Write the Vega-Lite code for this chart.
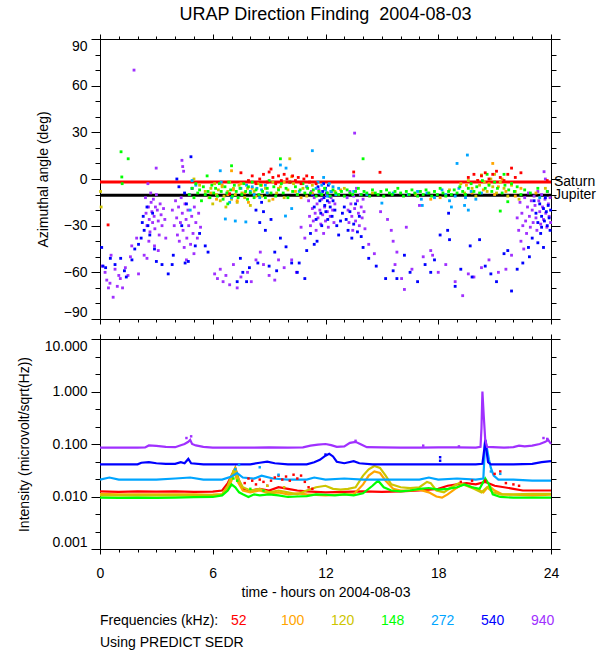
{
  "$schema": "https://vega.github.io/schema/vega-lite/v6.json",
  "padding": {"left": 16, "top": 5, "right": 5, "bottom": 5},
  "config": {
    "font": "Liberation Sans",
    "view": {"stroke": "black", "strokeWidth": 1},
    "axis": {
      "labelFont": "Liberation Sans", "labelFontSize": 14, "labelColor": "black",
      "titleFont": "Liberation Sans", "titleFontSize": 14, "titleFontWeight": "normal", "titleColor": "black",
      "domainColor": "black", "tickColor": "black", "grid": false,
      "labelPadding": 4, "titlePadding": 13, "labelOverlap": false, "labelBound": false
    },
    "legend": {"titleFont": "Liberation Sans", "labelFont": "Liberation Sans"},
    "title": {"font": "Liberation Sans", "fontSize": 18, "fontWeight": "normal", "color": "black"}
  },
  "datasets": {
    "planets": [
      {"body": "Saturn", "a": -2},
      {"body": "Jupiter", "a": -10.4}
    ],
    "df": [
      {"f":"940","t":0.12,"a":-56},{"f":"940","t":0.27,"a":-60},{"f":"940","t":0.36,"a":-65},{"f":"940","t":0.45,"a":-70},{"f":"940","t":0.53,"a":-67},{"f":"940","t":0.59,"a":-49},{"f":"940","t":0.7,"a":-76},{"f":"940","t":0.8,"a":-58},{"f":"940","t":0.92,"a":-69},{"f":"940","t":1.0,"a":-62},{"f":"940","t":1.08,"a":-64},{"f":"940","t":1.2,"a":-70},{"f":"940","t":1.35,"a":-57},{"f":"940","t":1.49,"a":-62},{"f":"940","t":1.62,"a":-50},{"f":"940","t":1.69,"a":-43},{"f":"940","t":1.81,"a":70},{"f":"940","t":1.95,"a":-38},{"f":"940","t":2.05,"a":-61},{"f":"940","t":2.35,"a":-49},{"f":"940","t":2.5,"a":-51},{"f":"940","t":2.6,"a":-40},
      {"f":"940","t":2.42,"a":-12},{"f":"940","t":2.45,"a":-22},{"f":"940","t":2.5,"a":-30},{"f":"940","t":2.55,"a":-3},{"f":"940","t":2.58,"a":-18},{"f":"940","t":2.62,"a":-26},{"f":"940","t":2.66,"a":-34},{"f":"940","t":2.7,"a":-9},{"f":"940","t":2.72,"a":-15},{"f":"940","t":2.76,"a":-21},{"f":"940","t":2.8,"a":-28},{"f":"940","t":2.84,"a":-13},{"f":"940","t":2.88,"a":-24},{"f":"940","t":2.92,"a":-32},{"f":"940","t":2.95,"a":-18},{"f":"940","t":2.99,"a":7},{"f":"940","t":3.0,"a":-10},{"f":"940","t":3.05,"a":-20},{"f":"940","t":3.1,"a":-27},{"f":"940","t":3.15,"a":-36},{"f":"940","t":3.2,"a":-16},{"f":"940","t":3.25,"a":-23},{"f":"940","t":3.3,"a":-30},{"f":"940","t":3.38,"a":-19},{"f":"940","t":3.45,"a":-26},{"f":"940","t":3.5,"a":-38},{"f":"940","t":3.1,"a":-46},{"f":"940","t":2.9,"a":-43},
      {"f":"940","t":3.85,"a":-20},{"f":"940","t":3.95,"a":-30},{"f":"940","t":4.02,"a":-14},{"f":"940","t":4.08,"a":-25},{"f":"940","t":4.12,"a":-36},{"f":"940","t":4.18,"a":-18},{"f":"940","t":4.22,"a":-40},{"f":"940","t":4.28,"a":-28},{"f":"940","t":4.32,"a":-12},{"f":"940","t":4.36,"a":12},{"f":"940","t":4.4,"a":8},{"f":"940","t":4.45,"a":5},{"f":"940","t":4.38,"a":-22},{"f":"940","t":4.42,"a":-33},{"f":"940","t":4.48,"a":-44},{"f":"940","t":4.52,"a":-16},{"f":"940","t":4.58,"a":-26},{"f":"940","t":4.62,"a":-38},{"f":"940","t":4.68,"a":-20},{"f":"940","t":4.72,"a":-30},{"f":"940","t":4.78,"a":-10},{"f":"940","t":4.82,"a":-42},{"f":"940","t":4.88,"a":-24},{"f":"940","t":4.95,"a":-35},{"f":"940","t":5.02,"a":-18},{"f":"940","t":5.1,"a":-28},{"f":"940","t":5.18,"a":-38},{"f":"940","t":5.25,"a":-22},{"f":"940","t":5.35,"a":-31},{"f":"940","t":5.0,"a":-48},{"f":"940","t":4.6,"a":-52},
      {"f":"940","t":6.1,"a":-61},{"f":"940","t":6.25,"a":-64},{"f":"940","t":6.4,"a":-58},{"f":"940","t":6.55,"a":-66},{"f":"940","t":6.7,"a":-62},{"f":"940","t":6.9,"a":-68},{"f":"940","t":7.1,"a":-55},{"f":"940","t":7.3,"a":-70},{"f":"940","t":7.5,"a":-63},{"f":"940","t":7.85,"a":-60},{"f":"940","t":8.05,"a":-66},{"f":"940","t":8.3,"a":-52},{"f":"940","t":8.53,"a":-47},{"f":"940","t":8.7,"a":-55},{"f":"940","t":9.0,"a":-62},{"f":"940","t":9.3,"a":-65},{"f":"940","t":9.5,"a":-52},{"f":"940","t":9.8,"a":-57},{"f":"940","t":10.2,"a":-52},{"f":"940","t":10.45,"a":-60},{"f":"940","t":10.7,"a":-31},{"f":"940","t":10.9,"a":-38},
      {"f":"940","t":11.1,"a":-14},{"f":"940","t":11.15,"a":-24},{"f":"940","t":11.2,"a":-30},{"f":"940","t":11.25,"a":-8},{"f":"940","t":11.3,"a":-19},{"f":"940","t":11.35,"a":-27},{"f":"940","t":11.4,"a":-12},{"f":"940","t":11.45,"a":-22},{"f":"940","t":11.5,"a":-33},{"f":"940","t":11.55,"a":-16},{"f":"940","t":11.6,"a":-25},{"f":"940","t":11.65,"a":-7},{"f":"940","t":11.7,"a":-20},{"f":"940","t":11.75,"a":-29},{"f":"940","t":11.8,"a":-13},{"f":"940","t":11.85,"a":-23},{"f":"940","t":11.9,"a":-35},{"f":"940","t":11.95,"a":-18},{"f":"940","t":12.0,"a":-27},{"f":"940","t":12.05,"a":-10},{"f":"940","t":12.1,"a":-21},{"f":"940","t":12.15,"a":-31},{"f":"940","t":12.2,"a":-15},{"f":"940","t":12.25,"a":-24},{"f":"940","t":12.3,"a":-12},{"f":"940","t":12.38,"a":-20},{"f":"940","t":12.45,"a":-28},{"f":"940","t":12.5,"a":-16},
      {"f":"940","t":13.15,"a":-12},{"f":"940","t":13.2,"a":-20},{"f":"940","t":13.25,"a":-28},{"f":"940","t":13.5,"a":2},{"f":"940","t":13.3,"a":-8},{"f":"940","t":13.35,"a":-16},{"f":"940","t":13.4,"a":-24},{"f":"940","t":13.45,"a":-33},{"f":"940","t":13.5,"a":-11},{"f":"940","t":13.55,"a":-19},{"f":"940","t":13.6,"a":-27},{"f":"940","t":13.65,"a":-6},{"f":"940","t":13.7,"a":-14},{"f":"940","t":13.75,"a":-22},{"f":"940","t":13.8,"a":-30},{"f":"940","t":13.85,"a":-10},{"f":"940","t":13.9,"a":-18},{"f":"940","t":13.95,"a":-25},{"f":"940","t":14.0,"a":-13},{"f":"940","t":14.05,"a":-21},{"f":"940","t":14.1,"a":-32},{"f":"940","t":13.55,"a":29.5},
      {"f":"940","t":14.3,"a":-42},{"f":"940","t":14.6,"a":-48},{"f":"940","t":14.93,"a":-21},{"f":"940","t":15.3,"a":-26},{"f":"940","t":15.5,"a":-33},{"f":"940","t":15.6,"a":-40},{"f":"940","t":15.7,"a":-55},{"f":"940","t":15.8,"a":-47},{"f":"940","t":16.05,"a":-64},{"f":"940","t":16.2,"a":-71},{"f":"940","t":16.3,"a":-31},{"f":"940","t":16.6,"a":-58},{"f":"940","t":17.0,"a":-17},{"f":"940","t":17.2,"a":-50},{"f":"940","t":17.6,"a":-46},{"f":"940","t":17.7,"a":-49},{"f":"940","t":18.0,"a":-60},{"f":"940","t":18.4,"a":-55},{"f":"940","t":18.9,"a":-66},{"f":"940","t":19.3,"a":-75},{"f":"940","t":19.6,"a":-61},{"f":"940","t":19.9,"a":-63},{"f":"940","t":20.3,"a":-57},{"f":"940","t":20.7,"a":-52},{"f":"940","t":21.2,"a":-60},{"f":"940","t":21.6,"a":-58},{"f":"940","t":21.9,"a":-49},
      {"f":"940","t":22.2,"a":-25},{"f":"940","t":22.28,"a":-33},{"f":"940","t":22.35,"a":-15},{"f":"940","t":22.4,"a":-40},{"f":"940","t":22.45,"a":-22},{"f":"940","t":22.5,"a":-30},{"f":"940","t":22.55,"a":-45},{"f":"940","t":22.6,"a":-12},{"f":"940","t":22.65,"a":-27},{"f":"940","t":22.7,"a":-35},{"f":"940","t":22.75,"a":-18},{"f":"940","t":22.8,"a":-9},{"f":"940","t":22.85,"a":-24},{"f":"940","t":22.9,"a":-31},{"f":"940","t":22.95,"a":-14},{"f":"940","t":23.0,"a":-20},{"f":"940","t":23.05,"a":-28},{"f":"940","t":23.1,"a":-11},{"f":"940","t":23.15,"a":-17},{"f":"940","t":23.2,"a":-25},{"f":"940","t":23.25,"a":-33},{"f":"940","t":23.3,"a":-8},{"f":"940","t":23.35,"a":-14},{"f":"940","t":23.4,"a":-21},{"f":"940","t":23.45,"a":-29},{"f":"940","t":23.5,"a":-10},{"f":"940","t":23.55,"a":-18},{"f":"940","t":23.6,"a":-26},{"f":"940","t":23.63,"a":4.7},{"f":"940","t":23.68,"a":-13},{"f":"940","t":23.72,"a":-22},{"f":"940","t":23.78,"a":-31},{"f":"940","t":23.82,"a":-8},{"f":"940","t":23.86,"a":-16},{"f":"940","t":23.9,"a":-24},{"f":"940","t":23.95,"a":-12},{"f":"940","t":23.98,"a":-28},{"f":"940","t":23.7,"a":0},
      {"f":"540","t":0.09,"a":-44},{"f":"540","t":0.16,"a":-56},{"f":"540","t":0.3,"a":-57},{"f":"540","t":0.55,"a":-51},{"f":"540","t":0.8,"a":-55},{"f":"540","t":1.1,"a":-51},{"f":"540","t":1.3,"a":-59},{"f":"540","t":1.4,"a":-63},{"f":"540","t":1.7,"a":-52},{"f":"540","t":1.85,"a":-45},{"f":"540","t":2.05,"a":-42},{"f":"540","t":2.19,"a":-38},{"f":"540","t":2.25,"a":-28},{"f":"540","t":2.3,"a":-24},{"f":"540","t":2.35,"a":-33},{"f":"540","t":2.5,"a":-18},{"f":"540","t":2.55,"a":-30},{"f":"540","t":2.65,"a":-36},{"f":"540","t":2.8,"a":-22},{"f":"540","t":2.9,"a":-45},{"f":"540","t":3.0,"a":-53},{"f":"540","t":3.3,"a":-55},{"f":"540","t":3.63,"a":-61},{"f":"540","t":3.84,"a":-55},{"f":"540","t":3.9,"a":-49},{"f":"540","t":4.09,"a":0},{"f":"540","t":4.2,"a":-5},{"f":"540","t":4.35,"a":-30},{"f":"540","t":4.5,"a":-9},{"f":"540","t":4.53,"a":-54},{"f":"540","t":4.6,"a":-16},{"f":"540","t":4.7,"a":-53},{"f":"540","t":4.84,"a":14.3},{"f":"540","t":4.9,"a":-6},{"f":"540","t":5.07,"a":-43},{"f":"540","t":5.3,"a":-35},{"f":"540","t":5.6,"a":-43},{"f":"540","t":5.75,"a":-47},
      {"f":"540","t":7.3,"a":-66},{"f":"540","t":7.47,"a":-51},{"f":"540","t":7.6,"a":-60},{"f":"540","t":7.8,"a":-66},{"f":"540","t":7.95,"a":-57},{"f":"540","t":8.3,"a":-20},{"f":"540","t":8.4,"a":-54},{"f":"540","t":8.5,"a":-28},{"f":"540","t":8.6,"a":-15},{"f":"540","t":8.7,"a":-21},{"f":"540","t":8.8,"a":-33},{"f":"540","t":9.0,"a":-56},{"f":"540","t":9.1,"a":-26},{"f":"540","t":9.3,"a":-47},{"f":"540","t":9.4,"a":-59},{"f":"540","t":9.6,"a":-38},{"f":"540","t":9.9,"a":-43.6},{"f":"540","t":10.2,"a":-54},{"f":"540","t":10.5,"a":-60},{"f":"540","t":10.6,"a":-54},{"f":"540","t":10.9,"a":-64},{"f":"540","t":11.0,"a":-46},{"f":"540","t":11.2,"a":-35},{"f":"540","t":11.4,"a":-42},{"f":"540","t":11.55,"a":-40},
      {"f":"540","t":11.3,"a":-10},{"f":"540","t":11.4,"a":-18},{"f":"540","t":11.5,"a":-26},{"f":"540","t":11.6,"a":-5},{"f":"540","t":11.7,"a":-14},{"f":"540","t":11.75,"a":-22},{"f":"540","t":11.8,"a":-30},{"f":"540","t":11.85,"a":-8},{"f":"540","t":11.9,"a":-3},{"f":"540","t":11.92,"a":-12},{"f":"540","t":11.96,"a":-17},{"f":"540","t":12.0,"a":-6},{"f":"540","t":12.02,"a":-21},{"f":"540","t":12.06,"a":-9},{"f":"540","t":12.1,"a":-14},{"f":"540","t":12.12,"a":-26},{"f":"540","t":12.15,"a":-4},{"f":"540","t":12.2,"a":-11},{"f":"540","t":12.25,"a":-18},{"f":"540","t":12.3,"a":-8},{"f":"540","t":12.35,"a":-24},{"f":"540","t":12.4,"a":-14},{"f":"540","t":12.5,"a":-20},{"f":"540","t":12.6,"a":-30},{"f":"540","t":12.7,"a":-36},{"f":"540","t":12.8,"a":-27},{"f":"540","t":12.9,"a":-22},
      {"f":"540","t":13.0,"a":-18},{"f":"540","t":13.1,"a":-26},{"f":"540","t":13.2,"a":-33},{"f":"540","t":13.3,"a":-21},{"f":"540","t":13.4,"a":-38},{"f":"540","t":13.5,"a":-29},{"f":"540","t":13.6,"a":-16},{"f":"540","t":13.7,"a":-34},{"f":"540","t":13.8,"a":-24},{"f":"540","t":13.9,"a":-37},{"f":"540","t":14.0,"a":-44},{"f":"540","t":14.3,"a":-51},{"f":"540","t":14.7,"a":-56},{"f":"540","t":15.2,"a":-64},{"f":"540","t":15.6,"a":-59},{"f":"540","t":15.8,"a":-64},{"f":"540","t":16.2,"a":-49},{"f":"540","t":16.5,"a":-60},{"f":"540","t":16.9,"a":-66},{"f":"540","t":17.3,"a":-55},{"f":"540","t":17.6,"a":-60},{"f":"540","t":17.8,"a":-52},{"f":"540","t":18.1,"a":-36},{"f":"540","t":18.5,"a":-33},{"f":"540","t":18.55,"a":-22},{"f":"540","t":18.6,"a":-39},{"f":"540","t":18.9,"a":-69},{"f":"540","t":19.2,"a":-58},{"f":"540","t":19.7,"a":-43},{"f":"540","t":19.8,"a":-63},{"f":"540","t":20.2,"a":-39},{"f":"540","t":20.5,"a":-56},{"f":"540","t":20.8,"a":-61},{"f":"540","t":21.1,"a":-66},{"f":"540","t":21.5,"a":-48},{"f":"540","t":21.7,"a":-46},{"f":"540","t":21.9,"a":-72},{"f":"540","t":22.2,"a":-58},{"f":"540","t":22.5,"a":-54},{"f":"540","t":22.8,"a":-44},{"f":"540","t":22.85,"a":-50},{"f":"540","t":23.0,"a":-38},{"f":"540","t":23.3,"a":-41},{"f":"540","t":23.5,"a":-31},{"f":"540","t":23.6,"a":-44},
      {"f":"540","t":23.1,"a":-14},{"f":"540","t":23.2,"a":-22},{"f":"540","t":23.3,"a":-28},{"f":"540","t":23.4,"a":-16},{"f":"540","t":23.5,"a":-24},{"f":"540","t":23.6,"a":-19},{"f":"540","t":23.65,"a":-27},{"f":"540","t":23.7,"a":-12},{"f":"540","t":23.75,"a":-21},{"f":"540","t":23.8,"a":-30},{"f":"540","t":23.85,"a":-17},{"f":"540","t":23.9,"a":-25},{"f":"540","t":23.95,"a":-33},{"f":"540","t":23.98,"a":-20},{"f":"540","t":23.45,"a":-35},
      {"f":"120","t":0.03,"a":-8},{"f":"120","t":0.06,"a":-18},{"f":"120","t":5.0,"a":0},{"f":"120","t":5.3,"a":-4},{"f":"120","t":5.6,"a":-8},{"f":"120","t":5.8,"a":-12},{"f":"120","t":5.9,"a":-6},{"f":"120","t":6.0,"a":-16},{"f":"120","t":6.1,"a":-3},{"f":"120","t":6.2,"a":-10},{"f":"120","t":6.3,"a":-7},{"f":"120","t":6.4,"a":-14},{"f":"120","t":6.5,"a":-5},{"f":"120","t":6.6,"a":-11},{"f":"120","t":6.7,"a":-18},{"f":"120","t":6.8,"a":-8},{"f":"120","t":6.9,"a":-2},{"f":"120","t":7.0,"a":-13},{"f":"120","t":7.1,"a":-6},{"f":"120","t":7.2,"a":-10},{"f":"120","t":7.3,"a":-15},{"f":"120","t":7.4,"a":-4},{"f":"120","t":7.55,"a":-9},{"f":"120","t":7.7,"a":-12},{"f":"120","t":7.85,"a":-6},{"f":"120","t":8.0,"a":-17},{"f":"120","t":8.2,"a":-8},{"f":"120","t":8.4,"a":-3},{"f":"120","t":8.6,"a":-11},{"f":"120","t":8.8,"a":-6},{"f":"120","t":9.0,"a":-14},{"f":"120","t":9.2,"a":-2},{"f":"120","t":9.4,"a":-9},{"f":"120","t":9.6,"a":-5},{"f":"120","t":9.8,"a":-12},{"f":"120","t":10.1,"a":13},{"f":"120","t":10.0,"a":-7},{"f":"120","t":10.3,"a":-3},{"f":"120","t":10.5,"a":-10},{"f":"120","t":10.8,"a":-6},{"f":"120","t":11.0,"a":-11},{"f":"120","t":11.3,"a":-4},{"f":"120","t":12.5,"a":-8},{"f":"120","t":13.0,"a":-6},{"f":"120","t":14.5,"a":-9},{"f":"120","t":16.8,"a":-10},{"f":"120","t":18.6,"a":-7},{"f":"120","t":19.2,"a":-3},{"f":"120","t":19.4,"a":-9},{"f":"120","t":19.6,"a":-1},{"f":"120","t":19.8,"a":-6},{"f":"120","t":20.0,"a":-11},{"f":"120","t":20.2,"a":-4},{"f":"120","t":20.3,"a":2.6},{"f":"120","t":20.45,"a":-2},{"f":"120","t":20.6,"a":-8},{"f":"120","t":20.8,"a":0},{"f":"120","t":20.9,"a":-5},{"f":"120","t":21.0,"a":3},{"f":"120","t":21.1,"a":-9},{"f":"120","t":21.3,"a":-2},{"f":"120","t":21.5,"a":-6},{"f":"120","t":21.7,"a":-11},{"f":"120","t":21.9,"a":-4},{"f":"120","t":22.1,"a":-8},{"f":"120","t":22.3,"a":-13},{"f":"120","t":23.7,"a":-6},
      {"f":"100","t":5.9,"a":-9},{"f":"100","t":6.2,"a":-13},{"f":"100","t":6.5,"a":-4},{"f":"100","t":6.8,"a":-10},{"f":"100","t":7.0,"a":5.3},{"f":"100","t":7.1,"a":-7},{"f":"100","t":7.3,"a":-14},{"f":"100","t":7.5,"a":-3},{"f":"100","t":7.7,"a":-9},{"f":"100","t":7.9,"a":-15},{"f":"100","t":8.1,"a":-6},{"f":"100","t":8.3,"a":-11},{"f":"100","t":8.6,"a":-4},{"f":"100","t":8.9,"a":-9},{"f":"100","t":9.2,"a":-13},{"f":"100","t":9.5,"a":-6},{"f":"100","t":9.8,"a":-2},{"f":"100","t":10.2,"a":1.5},{"f":"100","t":10.4,"a":-8},{"f":"100","t":10.7,"a":-12},{"f":"100","t":11.0,"a":-5},{"f":"100","t":11.3,"a":-9},{"f":"100","t":12.8,"a":-7},{"f":"100","t":17.6,"a":-13},{"f":"100","t":18.1,"a":-12},{"f":"100","t":19.5,"a":-4},{"f":"100","t":19.8,"a":-9},{"f":"100","t":20.1,"a":-1},{"f":"100","t":20.4,"a":-7},{"f":"100","t":20.7,"a":-3},{"f":"100","t":20.9,"a":10},{"f":"100","t":21.0,"a":-10},{"f":"100","t":21.2,"a":-5},{"f":"100","t":21.4,"a":0},{"f":"100","t":21.6,"a":-8},{"f":"100","t":21.9,"a":-3},{"f":"100","t":22.1,"a":-11},{"f":"100","t":22.4,"a":-6},{"f":"100","t":23.2,"a":-9},
      {"f":"272","t":4.9,"a":-1},{"f":"272","t":5.1,"a":-4},{"f":"272","t":4.8,"a":-20},{"f":"272","t":6.4,"a":5.3},{"f":"272","t":6.45,"a":-2},{"f":"272","t":6.67,"a":-25.7},{"f":"272","t":6.9,"a":-15},{"f":"272","t":7.0,"a":-12},{"f":"272","t":7.2,"a":-27},{"f":"272","t":7.5,"a":-6},{"f":"272","t":7.76,"a":-27.6},{"f":"272","t":7.8,"a":-4},{"f":"272","t":8.0,"a":-8},{"f":"272","t":8.1,"a":-5},{"f":"272","t":8.2,"a":-10},{"f":"272","t":8.35,"a":-6},{"f":"272","t":8.5,"a":-12},{"f":"272","t":8.6,"a":-7},{"f":"272","t":8.8,"a":-4},{"f":"272","t":8.9,"a":-9},{"f":"272","t":9.6,"a":9},{"f":"272","t":9.9,"a":7},{"f":"272","t":9.87,"a":-23.8},{"f":"272","t":10.2,"a":-19},{"f":"272","t":10.6,"a":-8},{"f":"272","t":11.0,"a":-5},{"f":"272","t":11.3,"a":18.2},{"f":"272","t":11.5,"a":-6},{"f":"272","t":11.6,"a":-2},{"f":"272","t":11.7,"a":-9},{"f":"272","t":11.8,"a":-4},{"f":"272","t":11.9,"a":1},{"f":"272","t":12.0,"a":-7},{"f":"272","t":12.1,"a":-11},{"f":"272","t":12.2,"a":-3},{"f":"272","t":12.3,"a":-8},{"f":"272","t":12.4,"a":-5},{"f":"272","t":12.55,"a":-10},{"f":"272","t":12.7,"a":-6},{"f":"272","t":13.5,"a":-8},{"f":"272","t":14.2,"a":-10},{"f":"272","t":15.0,"a":-15.5},{"f":"272","t":15.6,"a":-9},{"f":"272","t":16.4,"a":-10},{"f":"272","t":16.9,"a":-8},{"f":"272","t":17.1,"a":-13},{"f":"272","t":17.15,"a":-17},{"f":"272","t":17.4,"a":-9},{"f":"272","t":17.8,"a":-12},{"f":"272","t":18.2,"a":-7},{"f":"272","t":18.4,"a":-10},{"f":"272","t":18.6,"a":-14},{"f":"272","t":18.7,"a":-18},{"f":"272","t":18.9,"a":-11},{"f":"272","t":19.0,"a":10},{"f":"272","t":19.1,"a":-6},{"f":"272","t":19.4,"a":-17},{"f":"272","t":19.45,"a":-12},{"f":"272","t":19.55,"a":15.4},{"f":"272","t":19.6,"a":-20},{"f":"272","t":19.75,"a":-8},{"f":"272","t":20.0,"a":-13},{"f":"272","t":20.3,"a":-9},{"f":"272","t":23.4,"a":-12},
      {"f":"148","t":1.12,"a":17.5},{"f":"148","t":1.5,"a":13},{"f":"148","t":1.16,"a":1.3},{"f":"148","t":1.18,"a":-3},
      {"f":"148","t":4.75,"a":-10},{"f":"148","t":4.9,"a":-6},{"f":"148","t":5.0,"a":-12},{"f":"148","t":5.1,"a":-3},{"f":"148","t":5.2,"a":-9},{"f":"148","t":5.3,"a":-7},{"f":"148","t":5.4,"a":-14},{"f":"148","t":5.5,"a":-5},{"f":"148","t":5.6,"a":-10},{"f":"148","t":5.7,"a":2},{"f":"148","t":5.75,"a":-8},{"f":"148","t":5.85,"a":-12},{"f":"148","t":5.95,"a":-4},{"f":"148","t":6.05,"a":-9},{"f":"148","t":6.15,"a":-6},{"f":"148","t":6.25,"a":-11},{"f":"148","t":6.35,"a":-3},{"f":"148","t":6.45,"a":-8},{"f":"148","t":6.55,"a":-13},{"f":"148","t":6.65,"a":-5},{"f":"148","t":6.75,"a":-9},{"f":"148","t":6.8,"a":-16},{"f":"148","t":6.85,"a":-2},{"f":"148","t":6.95,"a":-7},{"f":"148","t":7.0,"a":8.5},{"f":"148","t":7.05,"a":-11},{"f":"148","t":7.15,"a":-4},{"f":"148","t":7.25,"a":-8},{"f":"148","t":7.35,"a":-12},{"f":"148","t":7.45,"a":-6},{"f":"148","t":7.55,"a":-10},{"f":"148","t":7.65,"a":-3},{"f":"148","t":7.75,"a":-8},{"f":"148","t":7.85,"a":-13},{"f":"148","t":7.9,"a":-5},{"f":"148","t":8.0,"a":-9},{"f":"148","t":8.1,"a":-2},{"f":"148","t":8.2,"a":-12},{"f":"148","t":8.3,"a":-7},{"f":"148","t":8.45,"a":-10},{"f":"148","t":8.55,"a":-4},{"f":"148","t":8.65,"a":-8},{"f":"148","t":8.8,"a":-12},{"f":"148","t":8.9,"a":-6},{"f":"148","t":9.0,"a":-1},{"f":"148","t":9.1,"a":-9},{"f":"148","t":9.25,"a":-5},{"f":"148","t":9.35,"a":-11},{"f":"148","t":9.5,"a":-7},{"f":"148","t":9.6,"a":13},{"f":"148","t":9.65,"a":-3},{"f":"148","t":9.75,"a":-9},{"f":"148","t":9.9,"a":-6},{"f":"148","t":10.0,"a":-12},{"f":"148","t":10.1,"a":-2},{"f":"148","t":10.25,"a":-8},{"f":"148","t":10.4,"a":-5},{"f":"148","t":10.5,"a":-10},{"f":"148","t":10.65,"a":-7},{"f":"148","t":10.8,"a":-3},{"f":"148","t":10.9,"a":-9},{"f":"148","t":11.05,"a":-6},
      {"f":"148","t":11.2,"a":-9},{"f":"148","t":11.35,"a":-7},{"f":"148","t":11.5,"a":-11},{"f":"148","t":11.65,"a":-8},{"f":"148","t":11.8,"a":-10},{"f":"148","t":11.95,"a":-6},{"f":"148","t":12.1,"a":-9},{"f":"148","t":12.25,"a":-11},{"f":"148","t":12.4,"a":-7},{"f":"148","t":12.55,"a":-9},{"f":"148","t":12.7,"a":-10},{"f":"148","t":12.85,"a":-8},{"f":"148","t":13.0,"a":-11},{"f":"148","t":13.15,"a":-7},{"f":"148","t":13.3,"a":-9},{"f":"148","t":13.45,"a":-10},{"f":"148","t":13.6,"a":-8},{"f":"148","t":13.75,"a":-6},{"f":"148","t":13.9,"a":-10},{"f":"148","t":14.0,"a":13},{"f":"148","t":14.05,"a":-8},{"f":"148","t":14.2,"a":-9},{"f":"148","t":14.35,"a":-11},{"f":"148","t":14.5,"a":-7},{"f":"148","t":14.65,"a":-9},{"f":"148","t":14.8,"a":-10},{"f":"148","t":14.95,"a":-8},{"f":"148","t":15.1,"a":-11},{"f":"148","t":15.25,"a":-7},{"f":"148","t":15.4,"a":-9},{"f":"148","t":15.55,"a":-10},{"f":"148","t":15.7,"a":-8},{"f":"148","t":15.85,"a":-6},{"f":"148","t":16.0,"a":-9},{"f":"148","t":16.15,"a":-11},{"f":"148","t":16.3,"a":-8},{"f":"148","t":16.45,"a":-10},{"f":"148","t":16.6,"a":-7},{"f":"148","t":16.75,"a":-9},{"f":"148","t":16.9,"a":-11},{"f":"148","t":17.05,"a":-8},{"f":"148","t":17.2,"a":-10},{"f":"148","t":17.35,"a":-7},{"f":"148","t":17.5,"a":-9},{"f":"148","t":17.65,"a":-11},{"f":"148","t":17.8,"a":-8},{"f":"148","t":17.95,"a":-10},{"f":"148","t":18.1,"a":-6},{"f":"148","t":18.25,"a":-9},{"f":"148","t":18.4,"a":-11},{"f":"148","t":18.55,"a":-8},{"f":"148","t":18.7,"a":-10},{"f":"148","t":18.85,"a":-7},{"f":"148","t":19.0,"a":-9},{"f":"148","t":19.15,"a":-5},{"f":"148","t":19.3,"a":-8},{"f":"148","t":19.45,"a":-10},{"f":"148","t":19.6,"a":-6},{"f":"148","t":19.75,"a":-3},{"f":"148","t":19.9,"a":-8},{"f":"148","t":20.05,"a":-5},{"f":"148","t":20.2,"a":-9},{"f":"148","t":20.35,"a":-1},{"f":"148","t":20.5,"a":-6},{"f":"148","t":20.6,"a":3},{"f":"148","t":20.7,"a":-4},{"f":"148","t":20.85,"a":-8},{"f":"148","t":21.0,"a":-2},{"f":"148","t":21.15,"a":-6},{"f":"148","t":21.3,"a":-20.6},{"f":"148","t":21.4,"a":-9},{"f":"148","t":21.5,"a":3},{"f":"148","t":21.55,"a":-4},{"f":"148","t":21.7,"a":-14.6},{"f":"148","t":21.75,"a":-7},{"f":"148","t":21.9,"a":-3},{"f":"148","t":22.05,"a":-8},{"f":"148","t":22.2,"a":-5},{"f":"148","t":22.4,"a":-10},{"f":"148","t":22.6,"a":-7},{"f":"148","t":22.9,"a":-9},{"f":"148","t":23.3,"a":-6},{"f":"148","t":23.8,"a":-8},
      {"f":"52","t":0.43,"a":-29.5},{"f":"52","t":6.9,"a":-9.5},{"f":"52","t":7.5,"a":4},{"f":"52","t":7.9,"a":-1},{"f":"52","t":8.1,"a":2},{"f":"52","t":8.3,"a":-3},{"f":"52","t":8.5,"a":0},{"f":"52","t":8.7,"a":3},{"f":"52","t":8.9,"a":-2},{"f":"52","t":9.0,"a":4.5},{"f":"52","t":9.1,"a":6.4},{"f":"52","t":9.2,"a":1},{"f":"52","t":9.35,"a":-3},{"f":"52","t":9.5,"a":2},{"f":"52","t":9.65,"a":-1},{"f":"52","t":9.8,"a":3},{"f":"52","t":9.95,"a":0},{"f":"52","t":10.1,"a":-2},{"f":"52","t":10.25,"a":2},{"f":"52","t":10.4,"a":-1},{"f":"52","t":10.55,"a":1},{"f":"52","t":10.7,"a":-3},{"f":"52","t":10.85,"a":0},{"f":"52","t":11.0,"a":2},{"f":"52","t":11.15,"a":-2},{"f":"52","t":11.3,"a":1},{"f":"52","t":11.5,"a":-3},{"f":"52","t":13.5,"a":4.5},{"f":"52","t":14.9,"a":4.3},{"f":"52","t":19.6,"a":1},{"f":"52","t":19.9,"a":3},{"f":"52","t":20.1,"a":-1},{"f":"52","t":20.3,"a":2},{"f":"52","t":20.5,"a":4},{"f":"52","t":20.7,"a":0},{"f":"52","t":20.9,"a":3},{"f":"52","t":21.1,"a":5},{"f":"52","t":21.3,"a":1},{"f":"52","t":21.5,"a":-1},{"f":"52","t":21.7,"a":3},{"f":"52","t":21.9,"a":7},{"f":"52","t":22.1,"a":1},{"f":"52","t":22.4,"a":4},{"f":"52","t":23.8,"a":-1}
    ],
    "ints": [
      {"f":"52","t":0,"v":0.0125},{"f":"52","t":1,"v":0.0123},{"f":"52","t":2,"v":0.0125},{"f":"52","t":3,"v":0.0124},{"f":"52","t":4,"v":0.0125},{"f":"52","t":5,"v":0.0123},{"f":"52","t":6,"v":0.0124},{"f":"52","t":6.5,"v":0.013},{"f":"52","t":6.8,"v":0.018},{"f":"52","t":7.0,"v":0.025},{"f":"52","t":7.2,"v":0.035},{"f":"52","t":7.4,"v":0.02},{"f":"52","t":7.6,"v":0.014},{"f":"52","t":8.0,"v":0.013},{"f":"52","t":8.5,"v":0.014},{"f":"52","t":9.0,"v":0.013},{"f":"52","t":9.5,"v":0.015},{"f":"52","t":10,"v":0.014},{"f":"52","t":10.5,"v":0.013},{"f":"52","t":11,"v":0.0125},{"f":"52","t":12,"v":0.012},{"f":"52","t":13,"v":0.0123},{"f":"52","t":14,"v":0.0125},{"f":"52","t":15,"v":0.0122},{"f":"52","t":16,"v":0.0125},{"f":"52","t":17,"v":0.013},{"f":"52","t":18,"v":0.014},{"f":"52","t":18.5,"v":0.016},{"f":"52","t":19,"v":0.017},{"f":"52","t":19.5,"v":0.018},{"f":"52","t":20,"v":0.017},{"f":"52","t":20.5,"v":0.019},{"f":"52","t":21,"v":0.016},{"f":"52","t":21.5,"v":0.015},{"f":"52","t":22,"v":0.014},{"f":"52","t":22.5,"v":0.013},{"f":"52","t":23,"v":0.013},{"f":"52","t":24,"v":0.013},
      {"f":"100","t":0,"v":0.0112},{"f":"100","t":1,"v":0.011},{"f":"100","t":2,"v":0.011},{"f":"100","t":3,"v":0.011},{"f":"100","t":4,"v":0.011},{"f":"100","t":5,"v":0.011},{"f":"100","t":6,"v":0.0108},{"f":"100","t":6.5,"v":0.011},{"f":"100","t":6.8,"v":0.014},{"f":"100","t":7.0,"v":0.02},{"f":"100","t":7.15,"v":0.03},{"f":"100","t":7.3,"v":0.02},{"f":"100","t":7.6,"v":0.013},{"f":"100","t":8.0,"v":0.012},{"f":"100","t":8.5,"v":0.013},{"f":"100","t":9,"v":0.0115},{"f":"100","t":9.5,"v":0.012},{"f":"100","t":10,"v":0.011},{"f":"100","t":10.5,"v":0.0115},{"f":"100","t":11,"v":0.011},{"f":"100","t":12,"v":0.0105},{"f":"100","t":13,"v":0.011},{"f":"100","t":13.5,"v":0.011},{"f":"100","t":14.0,"v":0.017},{"f":"100","t":14.3,"v":0.025},{"f":"100","t":14.6,"v":0.03},{"f":"100","t":14.9,"v":0.028},{"f":"100","t":15.2,"v":0.02},{"f":"100","t":15.6,"v":0.014},{"f":"100","t":16,"v":0.013},{"f":"100","t":16.5,"v":0.013},{"f":"100","t":17,"v":0.0135},{"f":"100","t":17.5,"v":0.012},{"f":"100","t":17.9,"v":0.01},{"f":"100","t":18.2,"v":0.0095},{"f":"100","t":18.5,"v":0.011},{"f":"100","t":18.9,"v":0.014},{"f":"100","t":19.3,"v":0.017},{"f":"100","t":19.6,"v":0.016},{"f":"100","t":20.0,"v":0.014},{"f":"100","t":20.4,"v":0.012},{"f":"100","t":20.7,"v":0.016},{"f":"100","t":21.0,"v":0.013},{"f":"100","t":21.4,"v":0.011},{"f":"100","t":22,"v":0.0108},{"f":"100","t":23,"v":0.0105},{"f":"100","t":24,"v":0.0108},
      {"f":"120","t":0,"v":0.0105},{"f":"120","t":1,"v":0.0105},{"f":"120","t":2,"v":0.0105},{"f":"120","t":3,"v":0.0105},{"f":"120","t":4,"v":0.0105},{"f":"120","t":5,"v":0.0105},{"f":"120","t":6,"v":0.0107},{"f":"120","t":6.5,"v":0.011},{"f":"120","t":6.8,"v":0.016},{"f":"120","t":7.0,"v":0.025},{"f":"120","t":7.2,"v":0.035},{"f":"120","t":7.35,"v":0.022},{"f":"120","t":7.6,"v":0.015},{"f":"120","t":8,"v":0.013},{"f":"120","t":8.5,"v":0.014},{"f":"120","t":9,"v":0.012},{"f":"120","t":9.5,"v":0.013},{"f":"120","t":10,"v":0.012},{"f":"120","t":10.5,"v":0.011},{"f":"120","t":11,"v":0.013},{"f":"120","t":11.5,"v":0.015},{"f":"120","t":12,"v":0.016},{"f":"120","t":12.4,"v":0.014},{"f":"120","t":12.8,"v":0.0135},{"f":"120","t":13.2,"v":0.014},{"f":"120","t":13.6,"v":0.015},{"f":"120","t":14.0,"v":0.025},{"f":"120","t":14.3,"v":0.033},{"f":"120","t":14.6,"v":0.038},{"f":"120","t":14.9,"v":0.035},{"f":"120","t":15.2,"v":0.025},{"f":"120","t":15.5,"v":0.017},{"f":"120","t":16,"v":0.015},{"f":"120","t":16.5,"v":0.0145},{"f":"120","t":17.0,"v":0.015},{"f":"120","t":17.4,"v":0.019},{"f":"120","t":17.6,"v":0.018},{"f":"120","t":17.9,"v":0.013},{"f":"120","t":18.3,"v":0.012},{"f":"120","t":18.7,"v":0.015},{"f":"120","t":19.1,"v":0.018},{"f":"120","t":19.5,"v":0.016},{"f":"120","t":19.9,"v":0.014},{"f":"120","t":20.3,"v":0.012},{"f":"120","t":20.6,"v":0.015},{"f":"120","t":20.9,"v":0.012},{"f":"120","t":21.3,"v":0.011},{"f":"120","t":22,"v":0.011},{"f":"120","t":23,"v":0.0112},{"f":"120","t":24,"v":0.0112},
      {"f":"148","t":0,"v":0.0095},{"f":"148","t":1,"v":0.0094},{"f":"148","t":2,"v":0.0095},{"f":"148","t":3,"v":0.0094},{"f":"148","t":4,"v":0.0095},{"f":"148","t":5,"v":0.0097},{"f":"148","t":6,"v":0.0098},{"f":"148","t":6.5,"v":0.0105},{"f":"148","t":6.8,"v":0.013},{"f":"148","t":7.0,"v":0.017},{"f":"148","t":7.2,"v":0.015},{"f":"148","t":7.4,"v":0.012},{"f":"148","t":7.6,"v":0.011},{"f":"148","t":7.9,"v":0.0098},{"f":"148","t":8.2,"v":0.011},{"f":"148","t":8.5,"v":0.0105},{"f":"148","t":9,"v":0.011},{"f":"148","t":9.5,"v":0.0105},{"f":"148","t":10,"v":0.0098},{"f":"148","t":10.5,"v":0.01},{"f":"148","t":11,"v":0.0102},{"f":"148","t":11.5,"v":0.011},{"f":"148","t":12,"v":0.0108},{"f":"148","t":12.5,"v":0.0105},{"f":"148","t":13,"v":0.011},{"f":"148","t":13.5,"v":0.0105},{"f":"148","t":14,"v":0.0115},{"f":"148","t":14.5,"v":0.016},{"f":"148","t":14.8,"v":0.02},{"f":"148","t":15.1,"v":0.015},{"f":"148","t":15.5,"v":0.013},{"f":"148","t":16,"v":0.0125},{"f":"148","t":16.5,"v":0.013},{"f":"148","t":17,"v":0.014},{"f":"148","t":17.5,"v":0.0145},{"f":"148","t":18,"v":0.0135},{"f":"148","t":18.5,"v":0.014},{"f":"148","t":19,"v":0.015},{"f":"148","t":19.4,"v":0.017},{"f":"148","t":19.8,"v":0.015},{"f":"148","t":20.2,"v":0.014},{"f":"148","t":20.5,"v":0.022},{"f":"148","t":20.7,"v":0.017},{"f":"148","t":20.9,"v":0.011},{"f":"148","t":21.3,"v":0.0098},{"f":"148","t":22,"v":0.0095},{"f":"148","t":23,"v":0.0095},{"f":"148","t":24,"v":0.0095},
      {"f":"272","t":0,"v":0.021},{"f":"272","t":0.5,"v":0.023},{"f":"272","t":1,"v":0.021},{"f":"272","t":2,"v":0.021},{"f":"272","t":3,"v":0.021},{"f":"272","t":4,"v":0.022},{"f":"272","t":4.8,"v":0.023},{"f":"272","t":5.5,"v":0.021},{"f":"272","t":6.5,"v":0.021},{"f":"272","t":7.0,"v":0.024},{"f":"272","t":7.3,"v":0.028},{"f":"272","t":7.6,"v":0.023},{"f":"272","t":8.2,"v":0.022},{"f":"272","t":8.6,"v":0.025},{"f":"272","t":9.2,"v":0.022},{"f":"272","t":10,"v":0.021},{"f":"272","t":11,"v":0.021},{"f":"272","t":11.4,"v":0.023},{"f":"272","t":12,"v":0.021},{"f":"272","t":13,"v":0.022},{"f":"272","t":14,"v":0.021},{"f":"272","t":15,"v":0.021},{"f":"272","t":16,"v":0.021},{"f":"272","t":17,"v":0.021},{"f":"272","t":17.5,"v":0.023},{"f":"272","t":18,"v":0.021},{"f":"272","t":19,"v":0.022},{"f":"272","t":20,"v":0.021},{"f":"272","t":20.4,"v":0.022},{"f":"272","t":20.5,"v":0.12},{"f":"272","t":20.6,"v":0.08},{"f":"272","t":20.7,"v":0.05},{"f":"272","t":20.8,"v":0.035},{"f":"272","t":20.95,"v":0.025},{"f":"272","t":21.2,"v":0.021},{"f":"272","t":22,"v":0.021},{"f":"272","t":23,"v":0.02},{"f":"272","t":24,"v":0.02},
      {"f":"540","t":0,"v":0.041},{"f":"540","t":1,"v":0.041},{"f":"540","t":2,"v":0.041},{"f":"540","t":2.2,"v":0.044},{"f":"540","t":2.6,"v":0.045},{"f":"540","t":3.0,"v":0.043},{"f":"540","t":3.5,"v":0.042},{"f":"540","t":4.0,"v":0.042},{"f":"540","t":4.3,"v":0.045},{"f":"540","t":4.5,"v":0.043},{"f":"540","t":4.7,"v":0.052},{"f":"540","t":4.85,"v":0.043},{"f":"540","t":5.5,"v":0.041},{"f":"540","t":6,"v":0.041},{"f":"540","t":7,"v":0.041},{"f":"540","t":8,"v":0.041},{"f":"540","t":8.5,"v":0.044},{"f":"540","t":8.9,"v":0.046},{"f":"540","t":9.3,"v":0.043},{"f":"540","t":10,"v":0.041},{"f":"540","t":11,"v":0.041},{"f":"540","t":11.4,"v":0.045},{"f":"540","t":11.7,"v":0.05},{"f":"540","t":12.0,"v":0.06},{"f":"540","t":12.2,"v":0.065},{"f":"540","t":12.4,"v":0.058},{"f":"540","t":12.6,"v":0.046},{"f":"540","t":13.0,"v":0.043},{"f":"540","t":13.5,"v":0.047},{"f":"540","t":13.8,"v":0.043},{"f":"540","t":14.5,"v":0.041},{"f":"540","t":16,"v":0.041},{"f":"540","t":18,"v":0.041},{"f":"540","t":20,"v":0.041},{"f":"540","t":20.35,"v":0.042},{"f":"540","t":20.45,"v":0.08},{"f":"540","t":20.5,"v":0.12},{"f":"540","t":20.58,"v":0.07},{"f":"540","t":20.65,"v":0.045},{"f":"540","t":20.8,"v":0.041},{"f":"540","t":22,"v":0.041},{"f":"540","t":23,"v":0.042},{"f":"540","t":23.5,"v":0.045},{"f":"540","t":24,"v":0.047},
      {"f":"940","t":0,"v":0.085},{"f":"940","t":1,"v":0.085},{"f":"940","t":2,"v":0.085},{"f":"940","t":2.4,"v":0.086},{"f":"940","t":2.6,"v":0.094},{"f":"940","t":3.0,"v":0.092},{"f":"940","t":3.5,"v":0.088},{"f":"940","t":4.0,"v":0.087},{"f":"940","t":4.3,"v":0.095},{"f":"940","t":4.5,"v":0.1},{"f":"940","t":4.7,"v":0.11},{"f":"940","t":4.8,"v":0.12},{"f":"940","t":4.9,"v":0.1},{"f":"940","t":5.1,"v":0.094},{"f":"940","t":5.5,"v":0.088},{"f":"940","t":6,"v":0.085},{"f":"940","t":7,"v":0.085},{"f":"940","t":8,"v":0.085},{"f":"940","t":9,"v":0.086},{"f":"940","t":10,"v":0.085},{"f":"940","t":10.8,"v":0.086},{"f":"940","t":11.2,"v":0.093},{"f":"940","t":11.6,"v":0.097},{"f":"940","t":12.0,"v":0.1},{"f":"940","t":12.3,"v":0.095},{"f":"940","t":12.6,"v":0.088},{"f":"940","t":13.0,"v":0.09},{"f":"940","t":13.3,"v":0.105},{"f":"940","t":13.6,"v":0.11},{"f":"940","t":13.9,"v":0.098},{"f":"940","t":14.2,"v":0.087},{"f":"940","t":15,"v":0.086},{"f":"940","t":16,"v":0.085},{"f":"940","t":17,"v":0.085},{"f":"940","t":18,"v":0.086},{"f":"940","t":19,"v":0.086},{"f":"940","t":20,"v":0.085},{"f":"940","t":20.25,"v":0.088},{"f":"940","t":20.3,"v":0.2},{"f":"940","t":20.35,"v":1.0},{"f":"940","t":20.42,"v":0.35},{"f":"940","t":20.5,"v":0.12},{"f":"940","t":20.6,"v":0.088},{"f":"940","t":21.5,"v":0.085},{"f":"940","t":22,"v":0.087},{"f":"940","t":22.3,"v":0.093},{"f":"940","t":22.6,"v":0.09},{"f":"940","t":23,"v":0.093},{"f":"940","t":23.4,"v":0.1},{"f":"940","t":23.7,"v":0.11},{"f":"940","t":23.85,"v":0.12},{"f":"940","t":24,"v":0.1}
    ],
    "dots": [
      {"f":"52","t":7.7,"v":0.018},{"f":"52","t":7.9,"v":0.022},{"f":"52","t":8.1,"v":0.02},{"f":"52","t":8.3,"v":0.017},{"f":"52","t":8.5,"v":0.021},{"f":"52","t":8.7,"v":0.019},{"f":"52","t":8.9,"v":0.016},{"f":"52","t":9.1,"v":0.02},{"f":"52","t":9.3,"v":0.023},{"f":"52","t":9.5,"v":0.025},{"f":"52","t":9.7,"v":0.021},{"f":"52","t":9.9,"v":0.024},{"f":"52","t":10.1,"v":0.02},{"f":"52","t":10.3,"v":0.026},{"f":"52","t":10.5,"v":0.022},{"f":"52","t":10.7,"v":0.025},{"f":"52","t":10.9,"v":0.019},{"f":"52","t":11.1,"v":0.015},{"f":"52","t":11.3,"v":0.014},{"f":"52","t":21.3,"v":0.03},{"f":"52","t":21.0,"v":0.027},{"f":"52","t":20.5,"v":0.02},{"f":"52","t":21.6,"v":0.018},{"f":"52","t":22.0,"v":0.017},{"f":"52","t":22.3,"v":0.016},{"f":"52","t":19.2,"v":0.019},{"f":"52","t":19.8,"v":0.02},
      {"f":"148","t":7.1,"v":0.022},{"f":"148","t":7.3,"v":0.02},{"f":"148","t":8.0,"v":0.014},{"f":"148","t":8.7,"v":0.013},
      {"f":"120","t":7.1,"v":0.03},{"f":"120","t":8.9,"v":0.016},{"f":"120","t":9.8,"v":0.015},
      {"f":"272","t":7.2,"v":0.033},{"f":"272","t":7.4,"v":0.04},{"f":"272","t":8.5,"v":0.036},{"f":"272","t":9.5,"v":0.026},{"f":"272","t":20.8,"v":0.03},{"f":"272","t":21.3,"v":0.027},
      {"f":"540","t":18.1,"v":0.056},{"f":"540","t":18.1,"v":0.048},{"f":"540","t":12.0,"v":0.063},
      {"f":"940","t":4.6,"v":0.13},{"f":"940","t":4.85,"v":0.14},{"f":"940","t":13.6,"v":0.115},{"f":"940","t":17.2,"v":0.093},{"f":"940","t":19.1,"v":0.09},{"f":"940","t":23.6,"v":0.13},{"f":"940","t":23.8,"v":0.125}
    ]
  },
  "spacing": 20,
  "bounds": "flush",
  "resolve": {"scale": {"color": "independent"}, "legend": {"color": "independent"}},
  "vconcat": [
    {
      "width": 451,
      "height": 280,
      "title": {"text": "URAP Direction Finding \u00a02004-08-03", "frame": "group", "anchor": "middle", "offset": 10},
      "layer": [
        {
          "data": {"name": "planets"},
          "transform": [{"filter": "datum.body === 'Saturn'"}],
          "mark": {"type": "rule", "color": "#ff0000", "strokeWidth": 3},
          "encoding": {"y": {"field": "a", "type": "quantitative", "scale": {"domain": [-90, 90], "nice": false}, "axis": null}}
        },
        {
          "data": {"name": "planets"},
          "transform": [{"filter": "datum.body === 'Jupiter'"}],
          "mark": {"type": "rule", "color": "black", "strokeWidth": 3},
          "encoding": {"y": {"field": "a", "type": "quantitative", "axis": null}}
        },
        {
          "data": {"name": "df"},
          "mark": {"type": "square", "size": 8, "opacity": 1},
          "encoding": {
            "x": {"field": "t", "type": "quantitative", "scale": {"domain": [0, 24], "nice": false},
              "axis": {"orient": "bottom", "values": [0,1,2,3,4,5,6,7,8,9,10,11,12,13,14,15,16,17,18,19,20,21,22,23,24], "labels": false, "title": null,
                "tickSize": {"condition": {"test": "datum.value % 6 === 0", "value": 5}, "value": 3}}},
            "y": {"field": "a", "type": "quantitative",
              "axis": {"orient": "left", "values": [-90,-80,-70,-60,-50,-40,-30,-20,-10,0,10,20,30,40,50,60,70,80,90],
                "labelExpr": "datum.value % 30 === 0 ? datum.label : ''", "labelFlush": true, "title": "Azimuthal angle (deg)",
                "tickSize": {"condition": {"test": "datum.value % 30 === 0", "value": 9}, "value": 5}}},
            "color": {"field": "f", "type": "nominal",
              "scale": {"domain": ["52","100","120","148","272","540","940"], "range": ["#ff0000","#ffa500","#cdc500","#00ff00","#00a5ff","#0000ff","#a030ff"]},
              "legend": null}
          }
        },
        {
          "data": {"name": "planets"},
          "mark": {"type": "text", "align": "left", "baseline": "middle", "dx": 3, "fontSize": 14, "color": "black"},
          "encoding": {
            "text": {"field": "body"},
            "x": {"datum": 24, "type": "quantitative",
              "axis": {"orient": "top", "values": [0,1,2,3,4,5,6,7,8,9,10,11,12,13,14,15,16,17,18,19,20,21,22,23,24], "labels": false, "title": null,
                "tickSize": {"condition": {"test": "datum.value % 6 === 0", "value": 5}, "value": 3}}},
            "y": {"field": "a", "type": "quantitative",
              "axis": {"orient": "right", "values": [-90,-80,-70,-60,-50,-40,-30,-20,-10,0,10,20,30,40,50,60,70,80,90], "labels": false, "title": null,
                "tickSize": {"condition": {"test": "datum.value % 30 === 0", "value": 9}, "value": 5}}}
          }
        }
      ],
      "resolve": {"axis": {"x": "independent", "y": "independent"}}
    },
    {
      "width": 451,
      "height": 210,
      "title": {"text": "Using PREDICT SEDR", "orient": "bottom", "anchor": "start", "frame": "group", "fontSize": 14, "offset": 8},
      "layer": [
        {
          "data": {"name": "ints"},
          "mark": {"type": "line", "strokeWidth": 2.2},
          "encoding": {
            "x": {"field": "t", "type": "quantitative", "scale": {"domain": [0, 24], "nice": false},
              "axis": {"orient": "bottom", "values": [0,1,2,3,4,5,6,7,8,9,10,11,12,13,14,15,16,17,18,19,20,21,22,23,24],
                "labelExpr": "datum.value % 6 === 0 ? datum.label : ''", "labelFlush": false, "labelPadding": 12, "titlePadding": 5,
                "title": "time - hours on 2004-08-03",
                "tickSize": {"condition": {"test": "datum.value % 6 === 0", "value": 5}, "value": 3}}},
            "y": {"field": "v", "type": "quantitative", "scale": {"type": "log", "domain": [0.001, 10], "nice": false},
              "axis": {"orient": "left", "values": [0.001,0.00215,0.00464,0.01,0.0215,0.0464,0.1,0.215,0.464,1,2.15,4.64,10],
                "format": ".3f", "labelFlush": true, "title": "Intensity (microvolt/sqrt(Hz))",
                "labelExpr": "abs(log(datum.value)/LN10 - round(log(datum.value)/LN10)) < 0.01 ? datum.label : ''",
                "tickSize": {"condition": {"test": "abs(log(datum.value)/LN10 - round(log(datum.value)/LN10)) < 0.01", "value": 9}, "value": 5}}},
            "color": {"field": "f", "type": "nominal",
              "scale": {"domain": ["52","100","120","148","272","540","940"], "range": ["#ff0000","#ffa500","#cdc500","#00ff00","#00a5ff","#0000ff","#a030ff"]},
              "legend": {"orient": "bottom", "direction": "horizontal", "title": "Frequencies (kHz):", "titleOrient": "left",
                "titleFontSize": 14, "titleFontWeight": "normal", "titleColor": "black", "titlePadding": -2,
                "labelFontSize": 14, "labelOffset": 0, "symbolSize": 0, "symbolStrokeWidth": 0, "symbolOpacity": 0,
                "columnPadding": 12, "gridAlign": "all", "offset": 15,
                "encode": {"labels": {"update": {"fill": {"signal": "{'52':'#ff0000','100':'#ffa500','120':'#cdc500','148':'#00ff00','272':'#00a5ff','540':'#0000ff','940':'#a030ff'}[datum.value]"}}}}}}
          }
        },
        {
          "data": {"name": "dots"},
          "mark": {"type": "square", "size": 6, "opacity": 1},
          "encoding": {
            "x": {"field": "t", "type": "quantitative",
              "axis": {"orient": "top", "values": [0,1,2,3,4,5,6,7,8,9,10,11,12,13,14,15,16,17,18,19,20,21,22,23,24], "labels": false, "title": null,
                "tickSize": {"condition": {"test": "datum.value % 6 === 0", "value": 5}, "value": 3}}},
            "y": {"field": "v", "type": "quantitative",
              "axis": {"orient": "right", "values": [0.001,0.00215,0.00464,0.01,0.0215,0.0464,0.1,0.215,0.464,1,2.15,4.64,10], "labels": false, "title": null,
                "tickSize": {"condition": {"test": "abs(log(datum.value)/LN10 - round(log(datum.value)/LN10)) < 0.01", "value": 9}, "value": 5}}},
            "color": {"field": "f", "type": "nominal"}
          }
        }
      ],
      "resolve": {"axis": {"x": "independent", "y": "independent"}}
    }
  ]
}
